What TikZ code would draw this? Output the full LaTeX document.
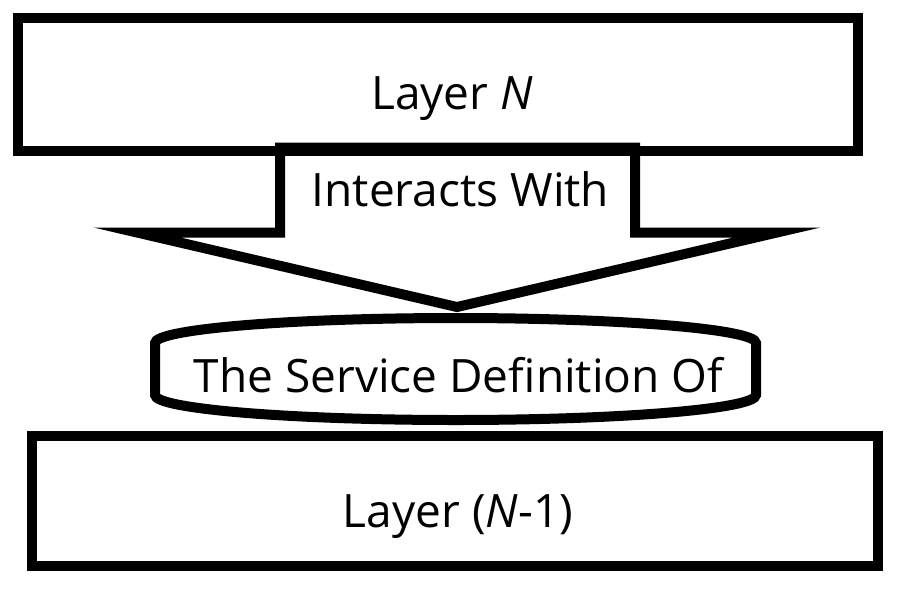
\documentclass[tikz,border=0pt]{standalone}
\usepackage{fontspec}
\setmainfont{Open Sans}
\begin{document}
\begin{tikzpicture}[x=0.75pt,y=-0.75pt,
  shape line/.style={draw=black,line width=7.5pt,line join=miter,miter limit=12},
  label text/.style={font=\fontsize{34.5pt}{40pt}\selectfont,text=black,inner sep=0pt,anchor=base}]
\useasboundingbox[fill=white] (0,0) rectangle (903,590);
% service definition (barrel shape)
\draw[shape line,fill=white] (155,395) -- (155,343)
  .. controls (155,329.2) and (289.5,318) .. (455.5,318)
  .. controls (621.5,318) and (756,329.2) .. (756,343)
  -- (756,395)
  .. controls (756,408.8) and (621.5,420) .. (455.5,420)
  .. controls (289.5,420) and (155,408.8) .. (155,395) -- cycle;
% block arrow
\draw[shape line,fill=white] (280,147.7) -- (635,147.7) -- (635,232.5) -- (777,232.5)
  -- (457,307) -- (137,232.5) -- (280,232.5) -- cycle;
% layers
\node[shape line,rectangle,minimum width=630.2pt,minimum height=99.75pt,inner sep=0pt] (layerN) at (437.85,84.2) {};
\node[shape line,rectangle,minimum width=634.7pt,minimum height=97.5pt,inner sep=0pt] (layerNm) at (454.85,501) {};
% texts
\node[label text] (tN) at (452,109.3) {Layer \emph{N}};
\node[label text] (tI) at (460.5,206.7) {Interacts With};
\node[label text] (tS) at (458.5,392) {The Service Definition Of};
\node[label text] (tM) at (458,527) {Layer (\emph{N}-1)};
\end{tikzpicture}
\end{document}
